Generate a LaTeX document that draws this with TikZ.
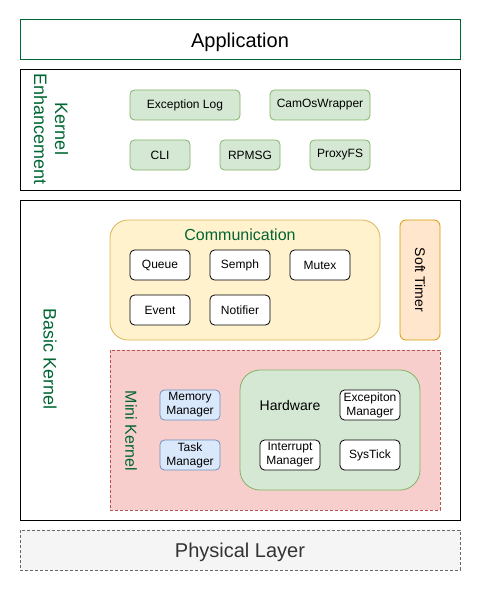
\documentclass[tikz,border=0pt]{standalone}
\usepackage{fontspec}
\setmainfont{Liberation Sans}
\definecolor{dgreen}{HTML}{006633}
\definecolor{gfill}{HTML}{D5E8D4}
\definecolor{gline}{HTML}{82B366}
\definecolor{yfill}{HTML}{FFF2CC}
\definecolor{yline}{HTML}{D6B656}
\definecolor{ofill}{HTML}{FFE6CC}
\definecolor{oline}{HTML}{D79B00}
\definecolor{rfill}{HTML}{F8CECC}
\definecolor{rline}{HTML}{B85450}
\definecolor{bfill}{HTML}{DAE8FC}
\definecolor{bline}{HTML}{6C8EBF}
\definecolor{pfill}{HTML}{F5F5F5}
\definecolor{pline}{HTML}{666666}
\definecolor{ptext}{HTML}{333333}
\newcommand{\fs}[2]{\fontsize{#1}{#2}\selectfont}
\tikzset{
  every node/.style={inner sep=0pt, outer sep=0pt, align=center},
  gbox/.style={draw=gline, fill=gfill, rounded corners=4.5pt, font=\fs{12}{14}, line width=0.8pt},
  wbox/.style={draw=black, fill=white, rounded corners=4.5pt, font=\fs{12}{14}, line width=0.8pt},
  bbox/.style={draw=bline, fill=bfill, rounded corners=4.5pt, font=\fs{12}{14}, line width=0.8pt},
  sz/.style 2 args={minimum width=#1pt, minimum height=#2pt},
}
\begin{document}
\begin{tikzpicture}[x=1pt,y=-1pt]
\useasboundingbox (0,0) rectangle (481,591);
% Application
\node[draw=dgreen, line width=1pt, sz={440}{40}, font=\fs{20}{24}, text depth=0pt] (app) at (240,40) {Application};
% Kernel Enhancement
\node[draw=black, line width=1pt, sz={440}{120}] (ke) at (240,130) {};
\node[rotate=-90, text=dgreen, font=\fs{18}{21}, align=center] (kel) at (51,129) {Kernel\\Enhancement};
\node[gbox, sz={110}{30}] (exlog) at (185,105) {Exception Log};
\node[gbox, sz={100}{30}] (camos) at (320,105) {CamOsWrapper};
\node[gbox, sz={60}{30}] (cli) at (160,155) {CLI};
\node[gbox, sz={60}{30}] (rpmsg) at (250,155) {RPMSG};
\node[gbox, sz={60}{30}] (proxy) at (340,155) {ProxyFS};
% Basic Kernel
\node[draw=black, line width=1pt, sz={440}{320}] (bk) at (240,360) {};
\node[rotate=-90, text=dgreen, font=\fs{18}{21}] (bkl) at (50,359) {Basic Kernel};
% Communication
\node[draw=yline, fill=yfill, line width=0.8pt, rounded corners=18pt, sz={270}{120}] (comm) at (245,280) {};
\node[text=dgreen, font=\fs{16}{18}] (comml) at (240,235) {Communication};
\node[wbox, sz={60}{30}] (queue) at (160,265) {Queue};
\node[wbox, sz={60}{30}] (semph) at (240,265) {Semph};
\node[wbox, sz={60}{30}] (mutex) at (320,265) {Mutex};
\node[wbox, sz={60}{30}] (event) at (160,310) {Event};
\node[wbox, sz={60}{30}] (notif) at (240,310) {Notifier};
% Soft Timer
\node[draw=oline, fill=ofill, line width=0.8pt, rounded corners=6pt, sz={40}{120}] (soft) at (420,280) {};
\node[rotate=-90, font=\fs{14}{16}] (softl) at (420,280) {Soft Timer};
% Mini Kernel
\node[draw=rline, fill=rfill, line width=0.8pt, dash pattern=on 3pt off 2pt, sz={330}{160}] (mini) at (275,430) {};
\node[rotate=-90, text=dgreen, font=\fs{16}{18}] (minil) at (131,431) {Mini Kernel};
\node[bbox, sz={60}{30}] (mem) at (190,405) {Memory\\Manager};
\node[bbox, sz={60}{30}] (task) at (190,455) {Task\\Manager};
% Hardware
\node[draw=gline, fill=gfill, line width=0.8pt, rounded corners=20pt, sz={180}{120}] (hw) at (330,430) {};
\node[font=\fs{14}{16}] (hwl) at (290,405) {Hardware};
\node[wbox, sz={60}{30}] (exm) at (370,405) {Excepiton\\Manager};
\node[wbox, sz={60}{30}] (intm) at (290,455) {Interrupt\\Manager};
\node[wbox, sz={60}{30}] (systick) at (370,455) {SysTick};
% Physical Layer
\node[draw=pline, fill=pfill, line width=0.8pt, dash pattern=on 3pt off 2pt, sz={440}{40}, text=ptext, font=\fs{20}{24}, text depth=0pt] (phys) at (240,550) {Physical Layer};
\end{tikzpicture}
\end{document}
